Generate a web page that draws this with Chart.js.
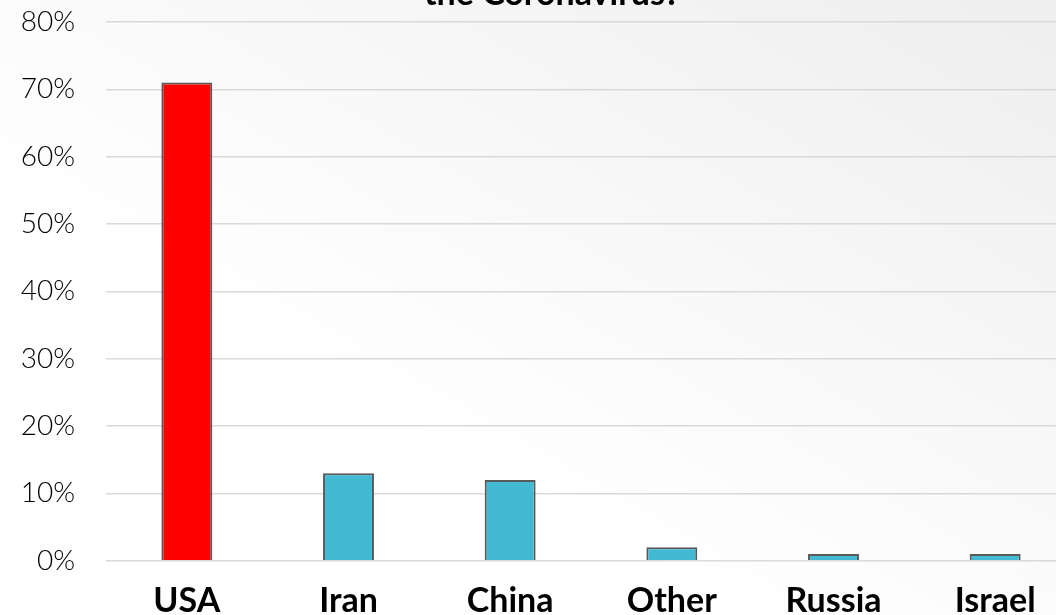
<!DOCTYPE html>
<html>
<head>
<meta charset="utf-8">
<script src="https://cdn.jsdelivr.net/npm/chart.js@4/dist/chart.umd.min.js"></script>
<style>
  html, body { margin: 0; padding: 0; width: 1056px; height: 615px; overflow: hidden; }
  body { background: linear-gradient(to top right, #ffffff 35%, #eeeeee 100%); position: relative; }
  #wrap { position: absolute; left: 0; top: -50px; width: 1076px; height: 694px; }
</style>
</head>
<body>
<div id="wrap"><canvas id="c"></canvas></div>
<script>
const categories = ["USA", "Iran", "China", "Other", "Russia", "Israel"];
const values = [71, 13, 12, 2, 1, 1];
const barColors = ["#FF0000", "#42BAD3", "#42BAD3", "#42BAD3", "#42BAD3", "#42BAD3"];
const titleText = "the Coronavirus?";

const titlePlugin = {
  id: 'cutTitle',
  afterDraw(chart) {
    const ctx = chart.ctx;
    ctx.save();
    ctx.font = 'bold 34px Lato';
    ctx.fillStyle = '#000';
    ctx.textAlign = 'center';
    ctx.textBaseline = 'alphabetic';
    ctx.fillText(titleText, 552, 55);
    ctx.restore();
  }
};

new Chart(document.getElementById('c'), {
  type: 'bar',
  data: {
    labels: categories,
    datasets: [{
      data: values,
      backgroundColor: barColors,
      borderColor: '#595959',
      borderWidth: 2,
      barPercentage: 0.315,
      categoryPercentage: 1
    }]
  },
  options: {
    responsive: true,
    maintainAspectRatio: false,
    animation: false,
    layout: { padding: { top: 72, bottom: 2.4, left: 0, right: 0 } },
    plugins: { legend: { display: false }, tooltip: { enabled: false }, title: { display: false } },
    scales: {
      x: {
        grid: { display: false, drawTicks: false },
        border: { display: false },
        ticks: { font: { family: 'Lato', size: 34, weight: 'bold' }, color: '#000', padding: 20, maxRotation: 0 }
      },
      y: {
        min: 0, max: 80,
        afterFit: s => { s.width = 106; },
        grid: { color: '#d9d9d9', lineWidth: 1.5, drawTicks: false },
        border: { display: false },
        ticks: {
          stepSize: 10,
          padding: 31,
          font: { family: 'Lato', size: 28, weight: 300 },
          color: '#000',
          callback: v => v + '%'
        }
      }
    }
  },
  plugins: [titlePlugin]
});
</script>
</body>
</html>
